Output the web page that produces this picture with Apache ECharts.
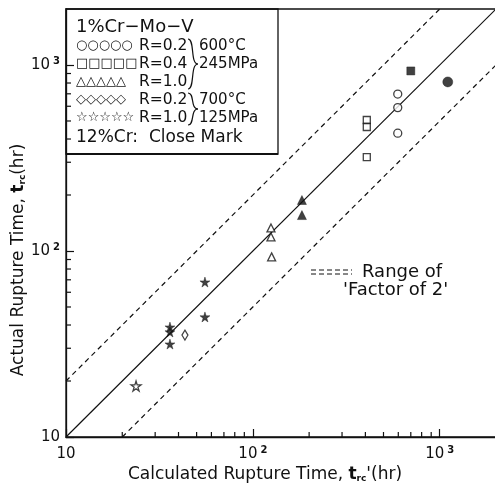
<!DOCTYPE html>
<html>
<head>
<meta charset="utf-8">
<script src="https://cdn.jsdelivr.net/npm/echarts@6/dist/echarts.min.js"></script>
<style>html,body{margin:0;padding:0;background:#fff}#c{width:495px;height:484px}</style>
</head>
<body>
<div id="c"></div>
<script>
// ---- data (calculated t_rc', actual t_r) ----
const openCircle600R02 = [[596, 698], [596, 590], [596, 430]];
const openSquare600R04 = [[407, 506], [407, 464], [407, 320]];
const openTriangle600R10 = [[125, 133], [125, 119], [126, 93]];
const openDiamond700R02 = [[43.3, 35.3]];
const openStar700R10 = [[23.7, 18.8]];
const closedCircle600R02 = [[1104, 811]];
const closedSquare600R04 = [[700, 929]];
const closedTriangle600R10 = [[183, 188], [183, 156]];
const closedStar700R10 = [[55.4, 68.1], [55.4, 44.2], [36, 39], [36, 36.7], [36, 31.6]];
const equalLine = [[10, 10], [2000, 2000]];
const upperFactorLine = [[10, 20], [1000, 2000]];
const lowerFactorLine = [[20, 10], [2000, 1000]];
const minorTicks = [20, 30, 40, 50, 60, 70, 80, 90, 200, 300, 400, 500, 600, 700, 800, 900];
const axisMin = 10, axisMax = 2000;

const INK = '#111';
const FONT = 'DejaVu Sans';
const starPath = 'path://M50,0 L61,35 L98,35 L68,57 L79,91 L50,70 L21,91 L32,57 L2,35 L39,35 Z';

function powLabel(v) {
  const e = Math.round(Math.log10(v));
  return e === 1 ? '{b|10}' : '{b|10}{s|' + e + '}';
}
const labelRich = {
  b: { fontSize: 15, fontFamily: FONT, color: INK, lineHeight: 18 },
  s: { fontSize: 10, fontFamily: FONT, fontWeight: 'bold', color: INK, lineHeight: 10, verticalAlign: 'top', padding: [0, 0, 0, 3] }
};
const nameRich = {
  n: { fontSize: 17, fontFamily: FONT, color: INK },
  t: { fontSize: 17, fontFamily: FONT, color: INK, fontWeight: 'bold' },
  sub: { fontSize: 9, fontFamily: FONT, color: INK, fontWeight: 'bold', verticalAlign: 'bottom', lineHeight: 14 }
};

function openSeries(data, symbol, size) {
  return { type: 'scatter', data: data, symbol: symbol, symbolSize: size, z: 5,
    itemStyle: { color: '#fff', borderColor: INK, borderWidth: 1.3 } };
}
function closedSeries(data, symbol, size) {
  return { type: 'scatter', data: data, symbol: symbol, symbolSize: size, z: 5,
    itemStyle: { color: INK, borderColor: INK, borderWidth: 0.5 } };
}
function refLine(data, dashed) {
  return { type: 'line', data: data, symbol: 'none', silent: true, z: 3,
    lineStyle: { color: INK, width: 1.2, type: dashed ? [5, 4] : 'solid' } };
}
function minorTickSeries(isX) {
  return {
    type: 'custom', data: minorTicks.map(v => [v, v]), silent: true, z: 4, clip: false,
    encode: { x: 0, y: 1 },
    renderItem: function (params, api) {
      const v = api.value(0);
      if (isX) {
        const p = api.coord([v, axisMin]);
        return { type: 'line', shape: { x1: p[0], y1: p[1], x2: p[0], y2: p[1] - 5 }, style: { stroke: INK, lineWidth: 1.2 } };
      }
      const p = api.coord([axisMin, v]);
      return { type: 'line', shape: { x1: p[0], y1: p[1], x2: p[0] + 5, y2: p[1] }, style: { stroke: INK, lineWidth: 1.2 } };
    }
  };
}

function txt(x, y, s, size) {
  return { type: 'text', x: x, y: y, z: 10,
    style: { text: s, font: size + 'px "DejaVu Sans"', fill: INK, textVerticalAlign: 'middle' } };
}
function brace(xL, yTop, yMid, yBot) {
  const xs = xL + 5, xt = xL + 10;
  return [
    { type: 'bezierCurve', z: 10, shape: { x1: xL, y1: yTop, cpx1: xs + 2, cpy1: yTop, cpx2: xs - 3, cpy2: yMid, x2: xt, y2: yMid }, style: { fill: 'none', stroke: INK, lineWidth: 1.2 } },
    { type: 'bezierCurve', z: 10, shape: { x1: xt, y1: yMid, cpx1: xs - 3, cpy1: yMid, cpx2: xs + 2, cpy2: yBot, x2: xL, y2: yBot }, style: { fill: 'none', stroke: INK, lineWidth: 1.2 } }
  ];
}

const chart = echarts.init(document.getElementById('c'), null, { renderer: 'canvas' });
chart.setOption({
  animation: false,
  backgroundColor: '#fff',
  grid: { left: 66, top: 9, width: 430, height: 428, containLabel: false, outerBoundsMode: 'none',
    show: true, borderColor: INK, borderWidth: 1.3, backgroundColor: 'transparent' },
  xAxis: {
    type: 'log', logBase: 10, min: axisMin, max: axisMax,
    axisLine: { lineStyle: { color: INK, width: 1.3 } },
    axisTick: { inside: true, length: 8, lineStyle: { color: INK, width: 1.2 } },
    splitLine: { show: false },
    axisLabel: { formatter: powLabel, rich: labelRich, margin: 8, showMaxLabel: false },
    name: '{n|Calculated Rupture Time, }{t|t}{sub|rc}{n|\'(hr)}',
    nameLocation: 'middle', nameGap: 29, nameMoveOverlap: false,
    nameTextStyle: { padding: [0, 32, 0, 0], rich: nameRich }
  },
  yAxis: {
    type: 'log', logBase: 10, min: axisMin, max: axisMax,
    axisLine: { lineStyle: { color: INK, width: 1.3 } },
    axisTick: { inside: true, length: 8, lineStyle: { color: INK, width: 1.2 } },
    splitLine: { show: false },
    axisLabel: { formatter: powLabel, rich: labelRich, margin: 6, showMaxLabel: false },
    name: '{n|Actual Rupture Time, }{t|t}{sub|rc}{n|(hr)}',
    nameLocation: 'middle', nameGap: 39, nameRotate: 90, nameMoveOverlap: false,
    nameTextStyle: { padding: [0, 74, 0, 0], rich: nameRich }
  },
  series: [
    refLine(equalLine, false),
    refLine(upperFactorLine, true),
    refLine(lowerFactorLine, true),
    minorTickSeries(true),
    minorTickSeries(false),
    openSeries(openCircle600R02, 'circle', 8),
    openSeries(openSquare600R04, 'rect', 7),
    openSeries(openTriangle600R10, 'triangle', 8),
    openSeries(openDiamond700R02, 'diamond', [6, 10]),
    openSeries(openStar700R10, starPath, 10),
    closedSeries(closedCircle600R02, 'circle', 10),
    closedSeries(closedSquare600R04, 'rect', 8),
    closedSeries(closedTriangle600R10, 'triangle', 9),
    closedSeries(closedStar700R10, starPath, 10)
  ],
  graphic: [
    { type: 'rect', shape: { x: 66, y: 9, width: 212, height: 145 }, style: { fill: 'none', stroke: INK, lineWidth: 1.3 }, z: 10 },
    { type: 'line', shape: { x1: 66, y1: 154, x2: 278, y2: 154 }, style: { stroke: INK, lineWidth: 2 }, z: 10 },
    txt(76, 27, '1%Cr−Mo−V', 18),
    txt(76, 46, '○○○○○', 13),
    txt(76, 64, '□□□□□', 13),
    txt(76, 82, '△△△△△', 13),
    txt(76, 100, '◇◇◇◇◇', 13),
    txt(76, 118, '☆☆☆☆☆', 13),
    txt(139, 46, 'R=0.2', 15.5),
    txt(139, 64, 'R=0.4', 15.5),
    txt(139, 82, 'R=1.0', 15.5),
    txt(139, 100, 'R=0.2', 15.5),
    txt(139, 118, 'R=1.0', 15.5),
    txt(199, 46, '600°C', 15),
    txt(199, 64, '245MPa', 15),
    txt(199, 100, '700°C', 15),
    txt(199, 118, '125MPa', 15),
    ...brace(188, 39, 64, 89),
    ...brace(188, 93, 109, 125),
    txt(76, 138, '12%Cr:  Close Mark', 17),
    { type: 'line', shape: { x1: 311, y1: 270, x2: 352, y2: 270 }, style: { stroke: INK, lineWidth: 1, lineDash: [5, 3] }, z: 10 },
    { type: 'line', shape: { x1: 311, y1: 274, x2: 352, y2: 274 }, style: { stroke: INK, lineWidth: 1, lineDash: [5, 3] }, z: 10 },
    txt(362, 272, 'Range of', 18),
    txt(343, 290, '\'Factor of 2\'', 18)
  ]
});
</script>
</body>
</html>
